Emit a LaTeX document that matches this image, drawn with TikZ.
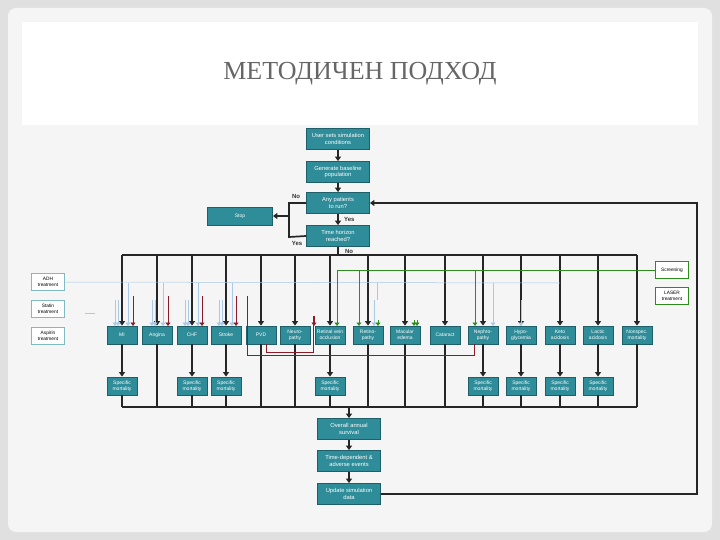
\documentclass[tikz,border=0pt]{standalone}
\usepackage{fontspec}
\setmainfont{Liberation Serif}
\newfontfamily\sansf{Liberation Sans}
\usetikzlibrary{arrows.meta}
\definecolor{teal1}{HTML}{2F8C99}
\definecolor{teald}{HTML}{1F5F6A}
\definecolor{lblue}{HTML}{A9C9E8}
\definecolor{dred}{HTML}{8B1A2A}
\definecolor{dgreen}{HTML}{2E8B1E}
\tikzset{
 bx/.style={draw=teald,line width=0.8pt,fill=teal1,text=white,font=\sansf\fontsize{5}{5.8}\selectfont,align=center,minimum width=30pt,minimum height=18pt,inner sep=0.5pt},
 big/.style={bx,minimum width=63pt,minimum height=21pt,font=\sansf\fontsize{5.8}{6.6}\selectfont},
 tr/.style={draw=teal1!60,fill=white,font=\sansf\fontsize{4.8}{5.6}\selectfont,align=center,minimum width=33pt,minimum height=17pt,inner sep=1pt},
 trg/.style={tr,draw=dgreen},
 ar/.style={-{Triangle[length=4.5pt,width=6pt]},line width=1.7pt,black!85},
 ln/.style={line width=1.7pt,black!85},
 lb/.style={-{Triangle[length=3.5pt,width=5pt]},lblue,line width=0.7pt},
 rd/.style={-{Triangle[length=3.5pt,width=5pt]},dred,line width=0.7pt},
 gr/.style={-{Triangle[length=3.5pt,width=5pt]},dgreen,line width=0.8pt},
 lab/.style={font=\sansf\bfseries\fontsize{6}{7}\selectfont,text=black!80}
}
\begin{document}
\begin{tikzpicture}[x=1pt,y=-1pt]
\useasboundingbox (0,0) rectangle (720,540);
\fill[black!12] (0,0) rectangle (720,540);
\fill[black!4,rounded corners=8pt] (8,8) rectangle (712,532);
\fill[white] (22,22) rectangle (698,125);
\node[text=black!60,font=\fontsize{26}{28}\selectfont] (title) at (360,74) {МЕТОДИЧЕН ПОДХОД};
% top chain
\node[big] (user) at (338,139) {User sets simulation\\conditions};
\node[big] (gen) at (338,172) {Generate baseline\\population};
\node[big] (any) at (338,203) {Any patients\\to run?};
\node[big] (time) at (338,236) {Time horizon\\reached?};
\node[bx,minimum width=65pt] (stop) at (240,216) {Stop};
\draw[ar] (user) -- (gen);
\draw[ar] (gen) -- (any);
\draw[ar] (any) -- (time) node[lab,midway,right=2pt]{Yes};
\coordinate (jl) at (289,216);
\draw[ln] (any.west) -| (289,237) -- (time.west);
\draw[ar] (jl) -- (stop.east);
\node[lab] (no1) at (296,196) {No};
\node[lab] (yes2) at (297,243) {Yes};
\draw[ln] (time.south) -- (338,255);
\node[lab] (no2) at (349,251) {No};
\draw[ln] (122,255) -- (637,255);
% disease boxes
\foreach \n/\x/\t in {mi/122/MI,ang/157/Angina,chf/192/CHF,str/226/Stroke,pvd/261/PVD,neu/295/{Neuro-\\pathy},rvo/330/{Retinal vein\\occlusion},ret/368/{Retino-\\pathy},mac/405/{Macular\\edema},cat/445/Cataract,nep/483/{Nephro-\\pathy},hyp/521/{Hypo-\\glycemia},keto/560/{Keto\\acidosis},lac/598/{Lactic\\acidosis},non/637/{Nonspec.\\mortality}}{
 \node[bx] (\n) at (\x,335) {\t};
 \draw[ar] (\x,255) -- (\n.north);
}
\foreach \n/\x in {mi/122,chf/192,str/226,rvo/330,nep/483,hyp/521,keto/560,lac/598}{
 \node[bx] (sm\n) at (\x,386) {Specific\\mortality};
 \draw[ar] (\n.south) -- (sm\n.north);
 \draw[ln] (sm\n.south) -- (\x,407);
}
\foreach \n/\x in {ang/157,pvd/261,neu/295,ret/368,mac/405,cat/445,non/637}{
 \draw[ln] (\n.south) -- (\x,407);
}
\draw[ln] (122,407) -- (637,407);
\node[big] (ov) at (349,429) {Overall annual\\survival};
\node[big] (te) at (349,461) {Time-dependent \&\\adverse events};
\node[big] (up) at (349,494) {Update simulation\\data};
\draw[ar] (349,407) -- (ov.north);
\draw[ar] (ov) -- (te);
\draw[ar] (te) -- (up);
\draw[ar] (up.east) -- (697,494) -- (697,203) -- (any.east);
% treatments
\node[tr] (adh) at (48,282) {ADH\\treatment};
\node[tr] (sta) at (48,309) {Statin\\treatment};
\node[tr] (asp) at (48,336) {Aspirin\\treatment};
\node[trg] (scr) at (672,270) {Screening};
\node[trg] (las) at (672,296) {LASER\\treatment};
\draw[lblue,line width=0.5pt] (adh.east) -- (560,283);
\draw[lblue,line width=0.5pt] (85,313) -- (95,313);
\foreach \x in {115,118,152,155,185,188,219,222,374,521}{\draw[lb] (\x,300) -- (\x,326);}
\foreach \x in {128,163,198,232}{\draw[lb] (\x,283) -- (\x,326);}
\foreach \x in {133,168,202,236}{\draw[rd] (\x,296) -- (\x,326);}
\draw[rd] (314,316) -- (314,326);
\draw[dred,line width=0.7pt] (247,296) -- (247,355) -- (474,355) -- (474,344);
\draw[dred,line width=0.7pt] (266,344) -- (266,352) -- (313,352) -- (313,316);
\draw[lblue,line width=0.5pt] (377,283) -- (377,300);
\draw[lb] (493,283) -- (493,326);
% green
\draw[dgreen,line width=0.8pt] (scr.west) -- (359,270);
\draw[gr] (359,270) -- (359,326);
\draw[dgreen,line width=0.8pt] (337,270) -- (359,270);
\draw[gr] (337,270) -- (337,326);
\draw[gr] (475,270) -- (475,326);
\draw[gr] (378,320) -- (378,326);
\draw[gr] (414,320) -- (414,326);
\draw[gr] (417,320) -- (417,326);
\draw[dgreen,line width=0.8pt] (las.north west) -- (las.south west);
\end{tikzpicture}
\end{document}
